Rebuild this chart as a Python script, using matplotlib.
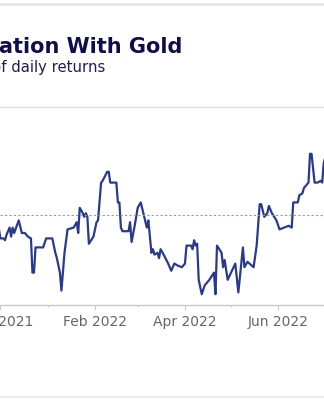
import matplotlib
matplotlib.use("Agg")
import matplotlib.pyplot as plt
import matplotlib.dates as mdates
from matplotlib.lines import Line2D
import pandas as pd

# rolling correlation
dates = [
    "2021-11-30", "2021-12-01", "2021-12-03", "2021-12-04", "2021-12-05", "2021-12-07",
    "2021-12-08", "2021-12-09", "2021-12-10", "2021-12-13", "2021-12-15", "2021-12-17",
    "2021-12-19", "2021-12-21", "2021-12-22", "2021-12-23", "2021-12-24", "2021-12-29",
    "2021-12-31", "2022-01-04", "2022-01-06", "2022-01-07", "2022-01-09", "2022-01-10",
    "2022-01-12", "2022-01-14", "2022-01-18", "2022-01-20", "2022-01-21", "2022-01-22",
    "2022-01-24", "2022-01-25", "2022-01-26", "2022-01-27", "2022-01-28", "2022-01-31",
    "2022-02-02", "2022-02-03", "2022-02-05", "2022-02-06", "2022-02-09", "2022-02-10",
    "2022-02-11", "2022-02-13", "2022-02-15", "2022-02-16", "2022-02-17", "2022-02-18",
    "2022-02-19", "2022-02-23", "2022-02-24", "2022-02-25", "2022-02-27", "2022-03-01",
    "2022-03-03", "2022-03-05", "2022-03-07", "2022-03-08", "2022-03-10", "2022-03-11",
    "2022-03-12", "2022-03-14", "2022-03-15", "2022-03-16", "2022-03-18", "2022-03-21",
    "2022-03-23", "2022-03-25", "2022-03-27", "2022-03-30", "2022-04-01", "2022-04-02",
    "2022-04-05", "2022-04-06", "2022-04-07", "2022-04-08", "2022-04-09", "2022-04-10",
    "2022-04-12", "2022-04-14", "2022-04-17", "2022-04-20", "2022-04-21", "2022-04-22",
    "2022-04-25", "2022-04-26", "2022-04-27", "2022-04-29", "2022-05-04", "2022-05-06",
    "2022-05-09", "2022-05-10", "2022-05-12", "2022-05-16", "2022-05-18", "2022-05-20",
    "2022-05-21", "2022-05-23", "2022-05-25", "2022-05-26", "2022-05-28", "2022-05-31",
    "2022-06-02", "2022-06-08", "2022-06-10", "2022-06-11", "2022-06-14", "2022-06-15",
    "2022-06-17", "2022-06-18", "2022-06-21", "2022-06-22", "2022-06-23", "2022-06-25",
    "2022-06-27", "2022-06-29", "2022-06-30", "2022-07-01", "2022-07-02",
]
corr = [
    -0.08, -0.13, -0.13, -0.14, -0.11, -0.07,
    -0.12, -0.07, -0.10, -0.03, -0.10, -0.10,
    -0.12, -0.13, -0.32, -0.32, -0.18, -0.18,
    -0.13, -0.13, -0.21, -0.24, -0.32, -0.42,
    -0.21, -0.08, -0.07, -0.04, -0.10, 0.04,
    0.01, -0.01, 0.01, -0.01, -0.16, -0.12,
    -0.04, -0.03, 0.18, 0.19, 0.24, 0.24,
    0.18, 0.18, 0.18, 0.07, 0.07, -0.07,
    -0.09, -0.09, -0.04, -0.15, -0.06, 0.04,
    0.07, 0.00, -0.07, -0.03, -0.21, -0.19,
    -0.22, -0.21, -0.24, -0.19, -0.22, -0.27,
    -0.31, -0.27, -0.28, -0.29, -0.27, -0.17,
    -0.17, -0.19, -0.14, -0.17, -0.16, -0.36,
    -0.44, -0.39, -0.36, -0.32, -0.44, -0.17,
    -0.21, -0.29, -0.25, -0.36, -0.27, -0.43,
    -0.18, -0.29, -0.26, -0.29, -0.17, 0.06,
    0.06, -0.01, 0.01, 0.05, 0.01, -0.03,
    -0.08, -0.06, -0.07, 0.07, 0.07, 0.11,
    0.12, 0.15, 0.18, 0.34, 0.34, 0.18,
    0.18, 0.19, 0.18, 0.29, 0.32,
]

title = "ation With Gold"
subtitle = "of daily returns"

x = pd.to_datetime(dates)

fig = plt.figure(figsize=(3.24, 4.0), dpi=100)
fig.patch.set_facecolor("white")

# plot area runs past both edges of the picture (cropped chart)
ax = fig.add_axes([0, 1 - 305 / 400, 1, 198 / 400])
ax.plot(x, corr, color="#2a3990", linewidth=1.6, solid_joinstyle="round")
ax.axhline(0, color="#9a9a9a", linewidth=0.8, linestyle=(0, (2, 2)))

ax.set_ylim(-0.5, 0.6)
ax.set_xlim(pd.Timestamp("2021-12-01") - pd.Timedelta(hours=7),
            pd.Timestamp("2022-07-01") + pd.Timedelta(hours=4))

for side in ["left", "right"]:
    ax.spines[side].set_visible(False)
ax.spines["top"].set_color("#dddddd")
ax.spines["top"].set_linewidth(1)
ax.spines["bottom"].set_color("#c8c8c8")
ax.spines["bottom"].set_linewidth(1)

ax.yaxis.set_visible(False)
ax.xaxis.set_major_locator(mdates.MonthLocator(bymonth=[2, 4, 6, 8, 10, 12]))
ax.xaxis.set_major_formatter(mdates.DateFormatter("%b %Y"))
ax.xaxis.set_minor_locator(mdates.MonthLocator())
ax.tick_params(axis="x", which="major", length=3.5, width=0.8, color="#c8c8c8",
               labelsize=10, labelcolor="#666666", pad=4)
ax.tick_params(axis="x", which="minor", length=1.5, width=0.8, color="#c8c8c8")

fig.text(182 / 324, 1 - 53 / 400, title, ha="right", va="baseline",
         fontsize=15, fontweight="bold", color="#0e0e4e")
# the "o" of the subtitle sits past the left edge, as in the cropped original
fig.text(-8.5 / 324, 1 - 72 / 400, subtitle, ha="left", va="baseline",
         fontsize=10.7, color="#1e1e5c")

# container borders at the top and bottom of the crop
fig.add_artist(Line2D([0, 1], [1 - 4 / 400] * 2, color="#e6e6e6", linewidth=2))
fig.add_artist(Line2D([0, 1], [1 - 397 / 400] * 2, color="#e6e6e6", linewidth=1.2))

fig.savefig("out.png", dpi=100)
